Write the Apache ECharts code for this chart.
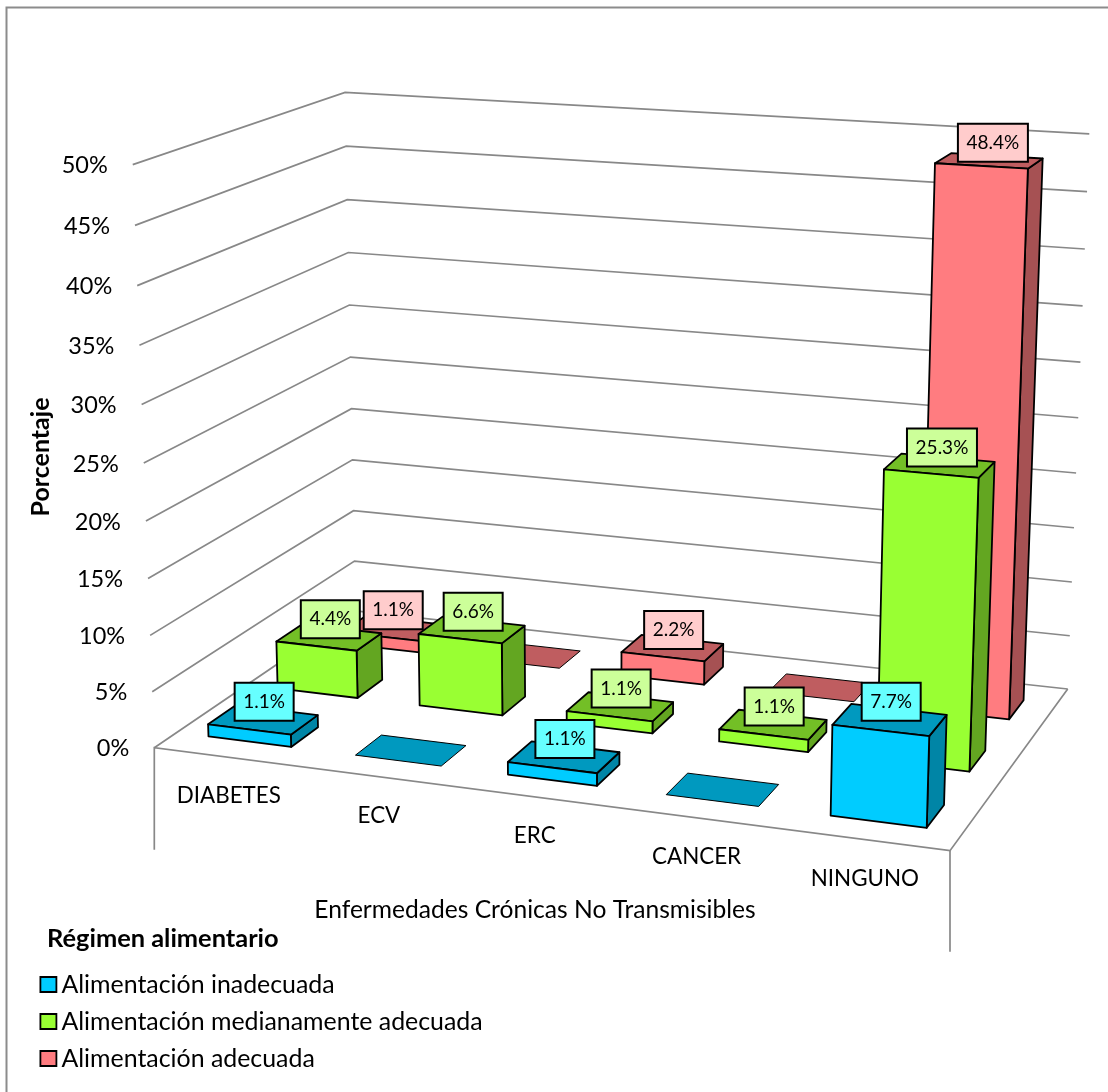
<!DOCTYPE html>
<html><head><meta charset="utf-8">
<style>html,body{margin:0;padding:0;background:#fff}#c{width:1108px;height:1092px}</style>
<script src="https://cdn.jsdelivr.net/npm/echarts@6/dist/echarts.min.js"></script>
</head><body><div id="c"></div>
<script>
const categories = ['DIABETES','ECV','ERC','CANCER','NINGUNO'];
const seriesNames = ['Alimentación inadecuada','Alimentación medianamente adecuada','Alimentación adecuada'];
const inadecuada = [1.1,0,1.1,0,7.7];
const medianamente = [4.4,6.6,1.1,1.1,25.3];
const adecuada = [1.1,0,2.2,0,48.4];
const ticks = [0,5,10,15,20,25,30,35,40,45,50];
const FONT = 'Lato';

// camera: screen positions of the plot box corners
const A=[154.3,747.7],B=[950,850.7],C=[1067.7,689],D=[355.5,611];
const E=[132,164.5],F=[346,92],G=[1089,133];
const HW=0.0567, HD=0.065;   // half footprint of a bar in floor units
const UOFF=0.0008;

function makeProjection(){
  const dx1=B[0]-C[0],dx2=D[0]-C[0],sx=A[0]-B[0]+C[0]-D[0];
  const dy1=B[1]-C[1],dy2=D[1]-C[1],sy=A[1]-B[1]+C[1]-D[1];
  const det=dx1*dy2-dx2*dy1;
  const g=(sx*dy2-dx2*sy)/det,h=(dx1*sy-sx*dy1)/det;
  const a=B[0]-A[0]+g*B[0],b=D[0]-A[0]+h*D[0],c=A[0];
  const d=B[1]-A[1]+g*B[1],e=D[1]-A[1]+h*D[1],f=A[1];
  const rows=[],rhs=[];
  [[E,0,0],[F,0,1],[G,1,1]].forEach(([P,u,v])=>{
    const w=g*u+h*v+1;
    rows.push([1,0,-P[0]]);rhs.push(P[0]*w-(a*u+b*v+c));
    rows.push([0,1,-P[1]]);rhs.push(P[1]*w-(d*u+e*v+f));
  });
  const N=[[0,0,0,0],[0,0,0,0],[0,0,0,0]];
  rows.forEach((r,k)=>{for(let i=0;i<3;i++){for(let j=0;j<3;j++)N[i][j]+=r[i]*r[j];N[i][3]+=r[i]*rhs[k];}});
  for(let i=0;i<3;i++){
    let m=i;for(let k=i+1;k<3;k++)if(Math.abs(N[k][i])>Math.abs(N[m][i]))m=k;
    [N[i],N[m]]=[N[m],N[i]];
    for(let k=0;k<3;k++)if(k!==i){const t=N[k][i]/N[i][i];for(let j=i;j<4;j++)N[k][j]-=t*N[i][j];}
  }
  const p=N[0][3]/N[0][0],q=N[1][3]/N[1][1],r=N[2][3]/N[2][2];
  return (u,v,t)=>{
    const w=g*u+h*v+1+r*t;
    // small residual correction of the rendered perspective, growing with height
    const dy=t*(5*u-(1-u)*(1.5+0.5*v));
    return [(a*u+b*v+c+p*t)/w,(d*u+e*v+f+q*t)/w+dy];
  };
}
const project=makeProjection();

const styles=[
 {front:'#00CCFF',top:'#0099BF',side:'#0085A6',label:'#66FFFF'},
 {front:'#99FF33',top:'#73BF26',side:'#63A621',label:'#CCFF99'},
 {front:'#FF7C80',top:'#BF5D60',side:'#A65153',label:'#FFCCCC'}];
const rowV=[0.165,0.495,0.83];
const edge={stroke:'#000',lineWidth:1.8,lineJoin:'round'};

function barRenderer(row){
  return function(params,api){
    const cs=params.coordSys;
    const pos=api.coord([api.value(0),api.value(1)]);
    const uc=(pos[0]-cs.x)/cs.width+UOFF;
    const t=(cs.y+cs.height-pos[1])/cs.height;
    const val=api.value(1);
    const st=styles[row];
    const u0=uc-HW,u1=uc+HW,v0=rowV[row]-HD,v1=rowV[row]+HD;
    const poly=(pts,fill,s)=>({type:'polygon',shape:{points:pts},style:Object.assign({fill},s||edge)});
    const kids=[];
    if(val>0){
      kids.push(poly([project(u1,v0,0),project(u1,v1,0),project(u1,v1,t),project(u1,v0,t)],st.side));
    }
    kids.push(poly([project(u0,v0,t),project(u1,v0,t),project(u1,v1,t),project(u0,v1,t)],st.top,val>0?edge:{stroke:'#000',lineWidth:1,lineJoin:'round'}));
    if(val>0){
      kids.push(poly([project(u0,v0,0),project(u1,v0,0),project(u1,v0,t),project(u0,v0,t)],st.front));
      const c=project(uc,rowV[row],t);
      kids.push({type:'text',x:c[0]+1+3*t,y:c[1]-18,style:{text:val.toFixed(1)+'%',font:'19px '+FONT,fill:'#000',
        align:'center',verticalAlign:'middle',backgroundColor:st.label,borderColor:'#000',borderWidth:2,padding:[9,8,8,8],width:val>=10?52:41}});
    }
    return {type:'group',children:kids};
  };
}
function wallRenderer(params,api){
  const cs=params.coordSys;
  const val=api.value(0);
  const pos=api.coord([0,val]);
  const t=(cs.y+cs.height-pos[1])/cs.height;
  const a=project(0,0,t),b=project(0,1,t),c=project(1,1,t);
  const lineStyle={stroke:'#888888',lineWidth:1.7,fill:null};
  return {type:'group',children:[
    {type:'polyline',shape:{points:[a,b,c]},style:lineStyle},
    {type:'text',x:a[0]-25,y:a[1]+1,style:{text:val+'%',font:'23.5px '+FONT,fill:'#000',align:'right',verticalAlign:'middle'}}
  ]};
}
function floorRenderer(params,api){
  const cs=params.coordSys;
  const pos=api.coord([api.value(0),0]);
  const uc=(pos[0]-cs.x)/cs.width;
  const p=project(uc,0,0);
  return {type:'text',x:p[0]+1.5,y:p[1]+39,style:{text:categories[params.dataIndex],font:'22.4px '+FONT,fill:'#000',align:'center',verticalAlign:'middle'}};
}
function baseRenderer(){
  const lineStyle={stroke:'#888888',lineWidth:1.7,fill:null};
  return {type:'group',children:[
    {type:'polyline',shape:{points:[[A[0],A[1]+102],A,B,C]},style:lineStyle},
    {type:'line',shape:{x1:B[0],y1:B[1],x2:B[0],y2:B[1]+101},style:lineStyle}
  ]};
}
const order=[inadecuada,medianamente,adecuada];
const chart=echarts.init(document.getElementById('c'),null,{renderer:'canvas'});
chart.setOption({
  animation:false,
  backgroundColor:'#fff',
  grid:{left:0,right:0,top:0,bottom:0},
  xAxis:{type:'category',data:categories,show:false},
  yAxis:{type:'value',min:0,max:50,interval:5,show:false},
  legend:{data:seriesNames,orient:'vertical',left:39.5,top:972,padding:0,itemWidth:16,itemHeight:15,itemGap:12,icon:'rect',
    selectedMode:false,textStyle:{fontFamily:FONT,fontSize:24.9,color:'#000',padding:[0,0,0,0]},
    itemStyle:{borderColor:'#000',borderWidth:1.8}},
  graphic:[
    {type:'rect',silent:true,z:-10,shape:{x:6.5,y:7.5,width:1200,height:1200},style:{fill:'none',stroke:'#8C8C8C',lineWidth:2}},
    {type:'text',x:535,y:910,style:{text:'Enfermedades Crónicas No Transmisibles',font:'24.6px '+FONT,fill:'#000',align:'center',verticalAlign:'middle'}},
    {type:'text',x:41,y:457,rotation:Math.PI/2,style:{text:'Porcentaje',font:'bold 25px '+FONT,fill:'#000',align:'center',verticalAlign:'middle'}},
    {type:'text',x:47,y:939,style:{text:'Régimen alimentario',font:'bold 25.4px '+FONT,fill:'#000',align:'left',verticalAlign:'middle'}}
  ],
  series:[
    {type:'custom',silent:true,z:1,data:ticks.map(v=>[v]),encode:{y:0},renderItem:wallRenderer},
    {type:'custom',silent:true,z:1,data:[[0]],encode:{x:0},renderItem:baseRenderer},
    {type:'custom',silent:true,z:1,data:categories.map((c,i)=>[i]),encode:{x:0},renderItem:floorRenderer},
    ...seriesNames.map((name,row)=>({
      type:'custom',name,silent:true,z:6-row,
      itemStyle:{color:styles[row].front},
      data:order[row].map((v,i)=>[i,v]),encode:{x:0,y:1},
      renderItem:barRenderer(row)
    }))
  ]
});
</script></body></html>
